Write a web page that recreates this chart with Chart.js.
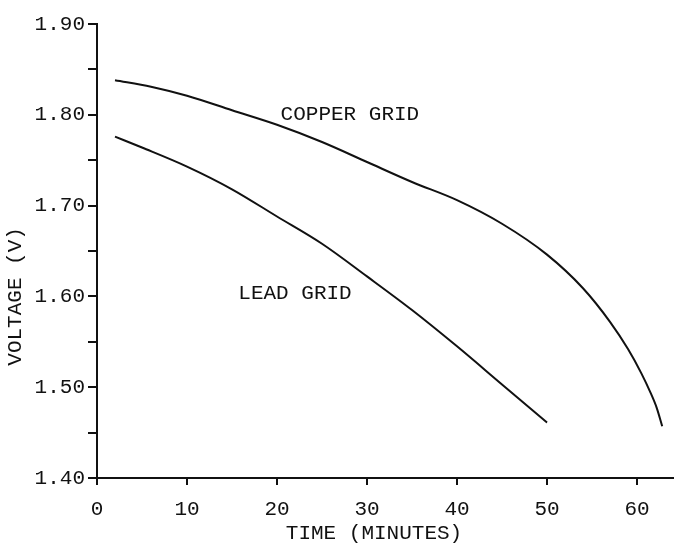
<!DOCTYPE html>
<html>
<head>
<meta charset="utf-8">
<script src="https://cdn.jsdelivr.net/npm/chart.js@4"></script>
<style>
  html, body { margin: 0; padding: 0; background: #fff; }
  #wrap { width: 676px; height: 551px; }
</style>
</head>
<body>
<div id="wrap"><canvas id="grafico" width="676" height="551"></canvas></div>
<script>
// dados
const tempoCobre = [2, 6, 10, 15, 20, 25, 30, 35, 40, 45, 50, 54, 57, 59, 60.5, 61.5, 62.2, 62.8];
const voltCobre  = [1.838, 1.831, 1.821, 1.805, 1.789, 1.770, 1.748, 1.726, 1.706, 1.680, 1.646, 1.609, 1.572, 1.542, 1.515, 1.494, 1.477, 1.457];
const tempoChumbo = [2, 5, 10, 15, 20, 25, 30, 35, 40, 45, 50];
const voltChumbo  = [1.776, 1.764, 1.743, 1.718, 1.688, 1.658, 1.622, 1.585, 1.545, 1.503, 1.461];
const ticksX = [0, 10, 20, 30, 40, 50, 60];
const ticksY = [1.40, 1.50, 1.60, 1.70, 1.80, 1.90];

const fonte = '"Liberation Mono", "DejaVu Sans Mono", monospace';
const preto = '#111';

function pontos(xs, ys) {
  return xs.map((x, i) => ({ x: x, y: ys[i] }));
}

// textos soltos: rótulos das curvas e títulos dos eixos
const textos = {
  id: 'textos',
  afterDraw(chart) {
    const c = chart.ctx;
    const sx = chart.scales.x, sy = chart.scales.y;
    c.save();
    c.fillStyle = preto;
    c.font = '21px ' + fonte;
    c.textAlign = 'center';
    c.textBaseline = 'middle';
    c.fillText('COPPER GRID', sx.getPixelForValue(28.1), sy.getPixelForValue(1.800));
    c.fillText('LEAD GRID', sx.getPixelForValue(22), sy.getPixelForValue(1.603));
    c.fillText('TIME (MINUTES)', 374, 533);
    c.translate(15, sy.getPixelForValue(1.60));
    c.rotate(-Math.PI / 2);
    c.fillText('VOLTAGE (V)', 0, 0);
    c.restore();
  }
};

const ctx = document.getElementById('grafico').getContext('2d');
new Chart(ctx, {
  type: 'line',
  data: {
    datasets: [
      {
        label: 'Copper grid',
        data: pontos(tempoCobre, voltCobre),
        borderColor: preto,
        borderWidth: 2,
        pointRadius: 0,
        cubicInterpolationMode: 'monotone',
        fill: false
      },
      {
        label: 'Lead grid',
        data: pontos(tempoChumbo, voltChumbo),
        borderColor: preto,
        borderWidth: 2,
        pointRadius: 0,
        cubicInterpolationMode: 'monotone',
        fill: false
      }
    ]
  },
  options: {
    responsive: false,
    animation: false,
    layout: { padding: { top: 24, right: 3, left: 0, bottom: 0 } },
    plugins: {
      legend: { display: false },
      tooltip: { enabled: false }
    },
    scales: {
      x: {
        type: 'linear',
        min: 0,
        max: 64,
        afterFit(s) { s.height = 73; },
        border: { display: true, color: preto, width: 2 },
        grid: { drawOnChartArea: false, drawTicks: true, tickLength: 7, color: preto, lineWidth: 2 },
        ticks: {
          stepSize: 10,
          includeBounds: false,
          padding: 12,
          color: preto,
          font: { family: fonte, size: 21 },
          maxRotation: 0,
          callback: v => ticksX.includes(v) ? String(v) : ''
        }
      },
      y: {
        type: 'linear',
        min: 1.40,
        max: 1.90,
        afterFit(s) { s.width = 97; },
        border: { display: true, color: preto, width: 2 },
        grid: { drawOnChartArea: false, drawTicks: true, tickLength: 9, color: preto, lineWidth: 2 },
        ticks: {
          stepSize: 0.05,
          padding: 3,
          color: preto,
          font: { family: fonte, size: 21 },
          callback: v => {
            const n = Math.round(v * 100);
            return ticksY.some(t => Math.round(t * 100) === n) ? (n / 100).toFixed(2) : '';
          }
        }
      }
    }
  },
  plugins: [textos]
});
</script>
</body>
</html>
